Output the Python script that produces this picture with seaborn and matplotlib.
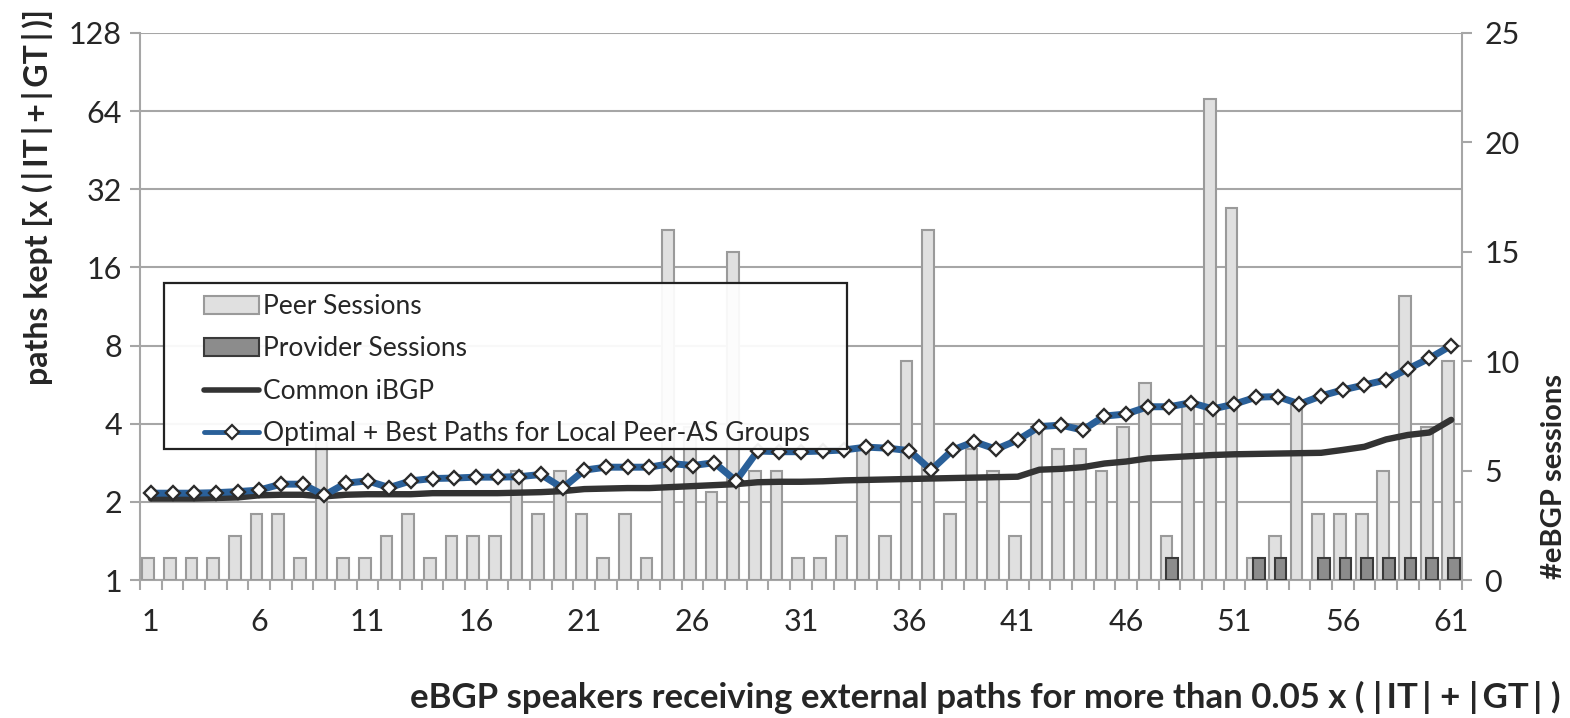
import matplotlib.pyplot as plt
import matplotlib.ticker as mticker
from matplotlib.patches import Patch, Rectangle
from matplotlib.lines import Line2D
import seaborn as sns
import numpy as np
import pandas as pd

speakers = list(range(1, 62))
peer_sessions = [1, 1, 1, 1, 2, 3, 3, 1, 7, 1,
                 1, 2, 3, 1, 2, 2, 2, 5, 3, 5,
                 3, 1, 3, 1, 16, 7, 4, 15, 5, 5,
                 1, 1, 2, 6, 2, 10, 16, 3, 6, 5,
                 2, 7, 6, 6, 5, 7, 9, 2, 8, 22,
                 17, 1, 2, 8, 3, 3, 3, 5, 13, 7,
                 10]
provider_sessions = [0] * 47 + [1, 0, 0, 0, 1, 1, 0, 1, 1, 1, 1, 1, 1, 1]
common_ibgp = [2.06, 2.06, 2.06, 2.07, 2.08, 2.12, 2.13, 2.13, 2.10, 2.13,
               2.14, 2.14, 2.14, 2.16, 2.16, 2.16, 2.16, 2.17, 2.18, 2.20,
               2.24, 2.25, 2.26, 2.26, 2.28, 2.30, 2.32, 2.34, 2.38, 2.39,
               2.39, 2.40, 2.42, 2.43, 2.44, 2.45, 2.46, 2.47, 2.48, 2.49,
               2.50, 2.66, 2.68, 2.72, 2.81, 2.86, 2.94, 2.97, 3.00, 3.03,
               3.05, 3.06, 3.07, 3.08, 3.09, 3.17, 3.26, 3.48, 3.62, 3.70,
               4.14]
optimal_local = [2.16, 2.16, 2.16, 2.17, 2.19, 2.22, 2.34, 2.34, 2.12, 2.36,
                 2.41, 2.27, 2.41, 2.46, 2.47, 2.49, 2.49, 2.50, 2.55, 2.26,
                 2.65, 2.72, 2.72, 2.72, 2.81, 2.76, 2.83, 2.41, 3.14, 3.12,
                 3.12, 3.14, 3.17, 3.25, 3.22, 3.15, 2.65, 3.17, 3.41, 3.19,
                 3.46, 3.90, 3.95, 3.78, 4.28, 4.36, 4.65, 4.65, 4.82, 4.56,
                 4.76, 5.06, 5.09, 4.76, 5.12, 5.40, 5.64, 5.90, 6.50, 7.15,
                 8.00]
left_ticks = [1, 2, 4, 8, 16, 32, 64, 128]

sns.set_style('white')
plt.rcParams['font.family'] = ['Lato', 'DejaVu Sans']

grey = '#a6a6a6'
blue = '#2a6099'
peer_fill, peer_edge = '#e0e0e0', '#9a9a9a'
prov_fill, prov_edge = '#8c8c8c', '#3a3a3a'
ts = '\u2009'  # thin space, Calibri-like wide pipes

df = pd.DataFrame({'speaker': speakers, 'peer': peer_sessions,
                   'provider': provider_sessions,
                   'common': common_ibgp, 'optimal': optimal_local})
prov = df[df['provider'] > 0]

fig = plt.figure(figsize=(15.7, 7.18), dpi=100)
ax = fig.add_axes([140 / 1570, 1 - 580 / 718, 1322 / 1570, 547 / 718])
axb = ax.twinx()
axl = ax.twinx()

# base axis: log2 scale + gridlines (behind bars)
ax.set_yscale('log', base=2)
ax.set_ylim(1, 128)
ax.set_yticks(left_ticks, labels=[str(t) for t in left_ticks])
ax.yaxis.set_minor_locator(mticker.NullLocator())
ax.grid(axis='y', color=grey, lw=1.5)
ax.grid(axis='x', visible=False)

# bars on the right axis
sns.barplot(x=df['speaker'] - 0.13, y=df['peer'], native_scale=True, width=0.54,
            color=peer_fill, saturation=1, edgecolor=peer_edge, linewidth=1.5,
            errorbar=None, ax=axb)
sns.barplot(x=prov['speaker'] + 0.13, y=prov['provider'], native_scale=True, width=0.54,
            color=prov_fill, saturation=1, edgecolor=prov_edge, linewidth=1.5,
            errorbar=None, ax=axb)
axb.set_ylim(0, 25)
axb.set_yticks(range(0, 26, 5))

# lines on a log axis drawn on top
axl.set_yscale('log', base=2)
sns.lineplot(x=df['speaker'], y=df['common'], color='#333333', lw=4.6,
             solid_joinstyle='round', ax=axl)
sns.lineplot(x=df['speaker'], y=df['optimal'], color=blue, lw=5,
             solid_joinstyle='round', marker='D', ms=7.5, mfc='white',
             mec='#2b2b2b', mew=1.7, ax=axl)
axl.set_ylim(1, 128)
axl.yaxis.set_minor_locator(mticker.NullLocator())
axl.yaxis.set_visible(False)

for s in axl.spines.values():
    s.set_visible(False)
for k, s in axb.spines.items():
    s.set_visible(k == 'right')
    s.set_color(grey)
    s.set_linewidth(1.5)
ax.spines['top'].set_visible(False)
ax.spines['right'].set_visible(False)
for k in ['left', 'bottom']:
    ax.spines[k].set_color(grey)
    ax.spines[k].set_linewidth(1.5)

ax.set_xlim(0.5, 61.5)
ax.set_xticks(range(1, 62, 5))
ax.set_xticks(np.arange(0.5, 62, 1), minor=True)
ax.tick_params(axis='x', which='major', length=0, pad=20, labelsize=22, bottom=True)
ax.tick_params(axis='x', which='minor', direction='out', length=7, width=1.5,
               color=grey, bottom=True)
ax.tick_params(axis='y', which='major', direction='out', length=7, width=1.5,
               color=grey, labelsize=22, pad=6, left=True)
axb.tick_params(axis='y', direction='out', length=7, width=1.5, color=grey,
                labelsize=22, pad=9, right=True)

pipes_x = f'({ts}|IT|{ts}+{ts}|GT|{ts})'.replace('|', f'{ts}|{ts}')
pipes_y = '(|IT|+|GT|)'.replace('|', f'{ts}|{ts}')
ax.set_xlabel(f'eBGP speakers receiving external paths for more than 0.05 x {pipes_x}',
              fontsize=25, fontweight='bold')
ax.xaxis.set_label_coords(0.639, -0.185)
ax.set_ylabel(f'paths kept [x {pipes_y}]', fontsize=23, fontweight='bold')
ax.yaxis.set_label_coords(-0.066, 0.70)
axb.set_ylabel('#eBGP sessions', fontsize=21, fontweight='bold')
axb.yaxis.set_label_coords(1.06, 0.19)

# legend box
axl.add_artist(Rectangle((0.018, 0.239), 0.517, 0.3045, transform=axl.transAxes,
                         facecolor='white', alpha=0.93, edgecolor='none', zorder=4))
axl.add_artist(Rectangle((0.018, 0.239), 0.517, 0.3045, transform=axl.transAxes,
                         facecolor='none', edgecolor='#222222', lw=1.6, zorder=4.1))
handles = [
    Patch(facecolor=peer_fill, edgecolor=peer_edge, lw=1.5, label='Peer Sessions'),
    Patch(facecolor=prov_fill, edgecolor=prov_edge, lw=1.5, label='Provider Sessions'),
    Line2D([], [], color='#333333', lw=4, label='Common iBGP'),
    Line2D([], [], color=blue, lw=3.5, marker='D', ms=7.5, mfc='white', mec='#2b2b2b',
           mew=1.6, label='Optimal + Best Paths for Local Peer-AS Groups'),
]
leg = axl.legend(handles=handles, loc='upper left',
                 bbox_to_anchor=((204 - 140) / 1322, (580 - 294) / 547),
                 fontsize=19, frameon=False, borderpad=0, labelspacing=0.66,
                 handlelength=2.1, handletextpad=0.15, borderaxespad=0, numpoints=1)
leg.set_zorder(5)

fig.savefig('out.png', dpi=100)
